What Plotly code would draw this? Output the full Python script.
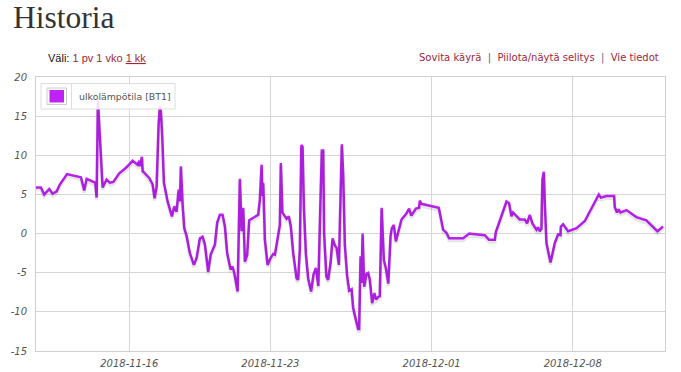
import pandas as pd
import plotly.graph_objects as go

# ---------------- data ----------------
T0 = pd.Timestamp("2018-11-16 00:00")
series_name = "ulkolämpötila [BT1]"

# hours relative to 2018-11-16 00:00
hours = [
    -111.0, -105.1, -101.2, -95.2, -91.2, -86.4, -82.5, -74.1, -57.5, -53.6,
    -50.7, -40.5, -38.8, -37.3, -31.7, -27.0, -23.0, -19.0, -11.9, -3.9,
    4.0, 10.0, 11.9, 12.7, 15.1, 15.9, 23.8, 27.8, 30.2, 32.6,
    35.0, 36.5, 37.7, 39.3, 41.3, 45.7, 50.8, 53.6, 56.4, 58.8,
    60.3, 61.5, 63.5, 65.5, 68.3, 72.2, 77.0, 80.2, 84.1, 87.3,
    90.1, 94.0, 96.9, 102.0, 104.7, 107.9, 111.1, 113.9, 116.6, 120.7,
    123.0, 125.0, 129.0, 131.7, 133.8, 135.7, 137.7, 140.4, 142.8, 145.7,
    153.5, 155.5, 157.6, 158.5, 159.5, 161.5, 164.7, 168.3, 171.4, 173.4,
    177.3, 179.3, 180.5, 182.3, 187.3, 190.0, 192.4, 195.2, 199.2, 201.1,
    203.1, 204.9, 206.3, 207.9, 210.3, 213.0, 216.5, 219.4, 222.2, 225.1,
    227.8, 229.3, 230.9, 232.0, 234.7, 236.8, 239.7, 242.1, 244.8, 246.8,
    249.6, 251.6, 253.1, 254.7, 256.7, 259.4, 261.8, 264.7, 266.6, 269.4,
    272.5, 273.7, 275.4, 276.6, 277.8, 279.7, 282.5, 284.4, 286.4, 289.2,
    291.8, 293.9, 296.3, 298.3, 300.5, 303.1, 305.5, 308.4, 311.1, 312.6,
    315.0, 317.4, 320.1, 324.1, 330.1, 333.2, 335.8, 341.2, 345.1, 345.9,
    347.9, 368.5, 373.7, 377.7, 380.8, 397.5, 404.6, 423.3, 428.4, 435.2,
    436.4, 449.1, 452.2, 455.0, 456.9, 464.9, 470.9, 473.6, 476.8, 480.0,
    484.8, 486.7, 488.7, 490.7, 491.9, 493.5, 494.7, 496.7, 501.5, 506.6,
    510.6, 513.4, 513.8, 516.5, 522.5, 532.4, 542.3, 552.2, 559.0, 561.4,
    568.1, 577.2, 578.0, 580.7, 582.4, 584.8, 591.9, 603.8, 615.7, 628.8,
    635.5,
]
temps = [
    5.9, 5.9, 5.0, 5.7, 5.1, 5.4, 6.3, 7.6, 7.2, 5.5,
    7.0, 6.5, 4.6, 17.0, 5.9, 6.9, 6.5, 6.6, 7.7, 8.4,
    9.3, 8.8, 9.3, 8.6, 9.8, 8.0, 7.1, 6.3, 4.5, 6.0,
    14.0, 16.3, 15.5, 12.4, 6.5, 4.1, 2.2, 3.5, 2.8, 5.6,
    4.1, 8.6, 3.7, 0.7, -0.3, -2.5, -4.0, -3.1, -0.6, -0.4,
    -1.4, -4.9, -2.7, -1.4, 1.4, 2.4, 2.4, 0.9, -2.5, -4.6,
    -4.2, -5.0, -7.4, 7.0, 0.3, 3.3, -3.6, -2.7, 1.7, 1.9,
    2.4, 4.3, 8.8, 4.8, 6.5, -0.8, -4.0, -3.1, -2.6, -2.7,
    -0.3, 1.1, 9.0, 2.7, 1.9, 2.2, 0.9, -2.5, -5.7, -5.9,
    -2.0, 11.3, 11.1, 3.4, -2.6, -5.7, -7.4, -5.2, -4.4, -6.7,
    4.8, 10.6, 10.6, 0.0, -5.5, -5.9, -3.7, -0.6, -1.5, -1.8,
    -4.0, 7.3, 11.4, 7.5, -1.5, -5.4, -7.3, -7.1, -9.5, -10.8,
    -12.2, -12.2, -2.9, -6.3, 0.0, -6.8, -5.1, -5.0, -5.9, -8.9,
    -7.6, -8.4, -8.1, -8.0, 3.3, -3.4, -4.4, -6.4, -0.3, 0.7,
    1.1, -1.0, 0.3, 1.8, 2.6, 3.2, 2.3, 3.2, 3.3, 4.2,
    3.8, 3.3, 0.5, 0.1, -0.6, -0.6, 0.0, -0.2, -0.8, -0.8,
    0.2, 4.1, 3.9, 2.2, 2.7, 1.8, 1.8, 1.3, 2.4, 1.3,
    0.5, 0.8, 0.3, 0.6, 6.9, 7.9, 3.9, -1.2, -3.7, -1.2,
    -0.1, -0.2, 0.9, 1.2, 0.3, 0.7, 1.6, 3.5, 5.0, 4.6,
    4.8, 4.8, 3.4, 2.7, 3.1, 2.7, 3.0, 2.1, 1.7, 0.3,
    0.9,
]
x_range_hours = [-111.0, 637.8]
x_tick_dates = ["2018-11-16", "2018-11-23", "2018-12-01", "2018-12-08"]
y_ticks = [-15, -10, -5, 0, 5, 10, 15, 20]
y_range = [-15, 20]

# ---------------- figure ----------------
W, H = 681, 372
ML, MR, MT, MB = 36, 16, 77, 21
PW, PH = W - ML - MR, H - MT - MB

def px(xp):
    return (xp - ML) / PW

def py(yp):
    return 1 - (yp - MT) / PH

times = T0 + pd.to_timedelta(hours, unit="h")
LINE = "#bf22f5"
TICKFONT = dict(family="DejaVu Sans", size=10, color="#545454", style="italic")

fig = go.Figure()
# soft shadow drawn on an overlay axis shifted by ~2px
shift = (y_range[1] - y_range[0]) / PH * 2.2
fig.add_trace(go.Scatter(x=times, y=temps, mode="lines", yaxis="y2",
                         line=dict(color="rgba(0,0,0,0.10)", width=3.5),
                         hoverinfo="skip", showlegend=False))
fig.add_trace(go.Scatter(x=times, y=temps, mode="lines", name=series_name,
                         line=dict(color=LINE, width=2.5), showlegend=False))

fig.update_layout(
    width=W, height=H,
    margin=dict(l=ML, r=MR, t=MT, b=MB, pad=0, autoexpand=False),
    paper_bgcolor="white", plot_bgcolor="white",
    xaxis=dict(
        type="date", automargin=False,
        range=[T0 + pd.Timedelta(hours=x_range_hours[0]), T0 + pd.Timedelta(hours=x_range_hours[1])],
        tickvals=x_tick_dates, ticktext=x_tick_dates,
        showgrid=True, gridcolor="#d6d6d6", gridwidth=1,
        showline=True, linecolor="#cfcfcf", linewidth=1, mirror=True,
        zeroline=False, ticks="", tickfont=TICKFONT, ticklabelstandoff=3,
    ),
    yaxis=dict(
        range=y_range, tickvals=y_ticks, ticktext=[str(v) for v in y_ticks], automargin=False,
        showgrid=True, gridcolor="#d6d6d6", gridwidth=1,
        showline=True, linecolor="#cfcfcf", linewidth=1, mirror=True,
        zeroline=False, ticks="", tickfont=TICKFONT, ticklabelstandoff=6,
    ),
    yaxis2=dict(range=[y_range[0] + shift, y_range[1] + shift], overlaying="y",
                visible=False, showgrid=False),
    showlegend=False,
)

# legend box (flot-style)
shapes = [
    dict(type="rect", xref="paper", yref="paper", x0=px(41), x1=px(175), y0=py(109), y1=py(83.5),
         fillcolor="rgba(255,255,255,0.85)", line=dict(color="#dddddd", width=1), layer="above"),
    dict(type="line", xref="paper", yref="paper", x0=px(71.5), x1=px(71.5), y0=py(109), y1=py(83.5),
         line=dict(color="#dddddd", width=1), layer="above"),
    dict(type="rect", xref="paper", yref="paper", x0=px(47), x1=px(66.5), y0=py(104.5), y1=py(88),
         fillcolor="white", line=dict(color="#cccccc", width=1), layer="above"),
    dict(type="rect", xref="paper", yref="paper", x0=px(49.5), x1=px(64), y0=py(102.5), y1=py(90),
         fillcolor=LINE, line=dict(width=0), layer="above"),
]
fig.update_layout(shapes=shapes)

RED = "#a31f3a"
annotations = [
    dict(text="Historia", xref="paper", yref="paper", x=px(11), y=py(17), xanchor="left", yanchor="middle",
         showarrow=False, font=dict(family="Liberation Serif", size=31.5, color="#333333")),
    dict(text="Väli: <span style='color:%s'>1 pv 1 vko </span><span style='color:%s'><u>1 kk</u></span>" % (RED, RED),
         xref="paper", yref="paper", x=px(45.5), y=py(58), xanchor="left", yanchor="middle",
         showarrow=False, font=dict(family="Liberation Sans", size=11, color="#111111")),
    dict(text=("<span style='color:%s'>Sovita käyrä</span>\u00a0\u00a0<span style='color:#4a6590'>|</span>\u00a0\u00a0"
               "<span style='color:%s'>Piilota/näytä selitys</span>\u00a0\u00a0<span style='color:#4a6590'>|</span>\u00a0\u00a0"
               "<span style='color:%s'>Vie tiedot</span>") % (RED, RED, RED),
         xref="paper", yref="paper", x=px(661), y=py(58), xanchor="right", yanchor="middle",
         showarrow=False, font=dict(family="DejaVu Sans", size=10, color=RED)),
    dict(text=series_name, xref="paper", yref="paper", x=px(76.5), y=py(96.5), xanchor="left", yanchor="middle",
         showarrow=False, font=dict(family="DejaVu Sans", size=9.4, color="#545454")),
]
fig.update_layout(annotations=annotations)

fig.write_html("out.html", config={"displayModeBar": False},
               post_script="document.body.style.margin='0';document.body.style.overflow='hidden';")
